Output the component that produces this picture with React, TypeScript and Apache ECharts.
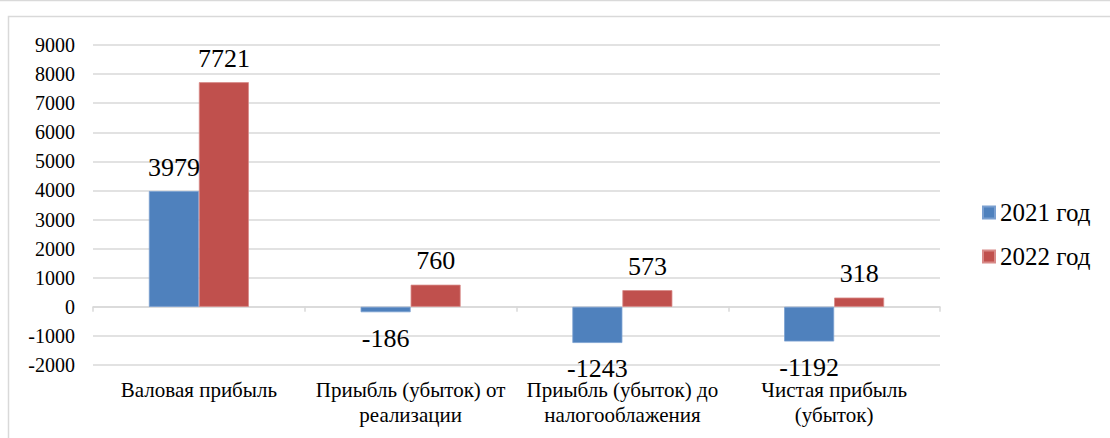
import React, { useEffect, useRef } from "react";
import * as echarts from "echarts";

const categories = [
  "Валовая прибыль",
  "Приыбль (убыток) от\nреализации",
  "Приыбль (убыток) до\nналогооблажения",
  "Чистая прибыль\n(убыток)",
];
const seriesNames = ["2021 год", "2022 год"];
const values2021 = [3979, -186, -1243, -1192];
const values2022 = [7721, 760, 573, 318];
const yTicks = { min: -2000, max: 9000, interval: 1000 };

const FONT = "Times New Roman, Liberation Serif, serif";

function toData(vals: number[]) {
  return vals.map((v) => ({
    value: v,
    label: { position: v < 0 ? "bottom" : "top", distance: v < 0 ? 13 : 11 },
  }));
}

export default function App() {
  const ref = useRef<HTMLDivElement>(null);
  useEffect(() => {
    if (!ref.current) return;
    const chart = echarts.init(ref.current, null, { renderer: "svg" });
    const labelStyle = {
      show: true,
      color: "#000",
      fontFamily: FONT,
      fontSize: 26,
    };
    chart.setOption({
      animation: false,
      backgroundColor: "#fff",
      textStyle: { fontFamily: FONT },
      graphic: [
        {
          type: "line",
          shape: { x1: 0, y1: 0.5, x2: 1110, y2: 0.5 },
          style: { stroke: "#d9d9d9", lineWidth: 1.5 },
          z: -1,
        },
        {
          type: "rect",
          shape: { x: 8.5, y: 16.5, width: 1110, height: 430 },
          style: { fill: "none", stroke: "#d9d9d9", lineWidth: 1.5 },
          z: -1,
        },
      ],
      grid: { left: 93, right: 170, top: 45, bottom: 73, containLabel: false },
      legend: {
        orient: "vertical",
        left: 982,
        top: 200,
        padding: 0,
        itemWidth: 12,
        itemHeight: 12,
        itemGap: 19,
        icon: "rect",
        data: seriesNames,
        textStyle: { fontFamily: FONT, fontSize: 25, color: "#000", lineHeight: 22 },
      },
      xAxis: [
        {
          type: "category",
          data: categories,
          position: "bottom",
          axisLine: { show: false, onZero: false },
          axisTick: { show: false },
          axisLabel: {
            color: "#000",
            fontFamily: FONT,
            fontSize: 21,
            lineHeight: 25,
            margin: 12,
            interval: 0,
          },
        },
        {
          type: "category",
          data: categories,
          position: "top",
          axisLine: { show: true, onZero: true, lineStyle: { color: "#d9d9d9", width: 1.5 } },
          axisTick: { show: true, inside: true, length: 5, lineStyle: { color: "#d9d9d9", width: 1.5 } },
          axisLabel: { show: false },
          splitLine: { show: false },
        },
      ],
      yAxis: {
        type: "value",
        min: yTicks.min,
        max: yTicks.max,
        interval: yTicks.interval,
        axisLine: { show: false },
        axisTick: { show: false },
        axisLabel: {
          color: "#000",
          fontFamily: FONT,
          fontSize: 20,
          margin: 18,
          formatter: (v: number) => String(v),
        },
        splitLine: { lineStyle: { color: "#d9d9d9", width: 1.5 } },
      },
      series: [
        {
          name: seriesNames[0],
          type: "bar",
          xAxisIndex: 0,
          barWidth: 50,
          barGap: "0%",
          itemStyle: { color: "#4f81bd", borderColor: "#7a9fd0", borderWidth: 0.8 },
          label: labelStyle,
          data: toData(values2021),
        },
        {
          name: seriesNames[1],
          type: "bar",
          xAxisIndex: 0,
          barWidth: 50,
          barGap: "0%",
          itemStyle: { color: "#c0504d", borderColor: "#d88a88", borderWidth: 0.8 },
          label: labelStyle,
          data: toData(values2022),
        },
      ],
    });
    return () => chart.dispose();
  }, []);
  return (
    <div
      ref={ref}
      style={{ position: "absolute", left: 0, top: 0, width: 1110, height: 438 }}
    />
  );
}
